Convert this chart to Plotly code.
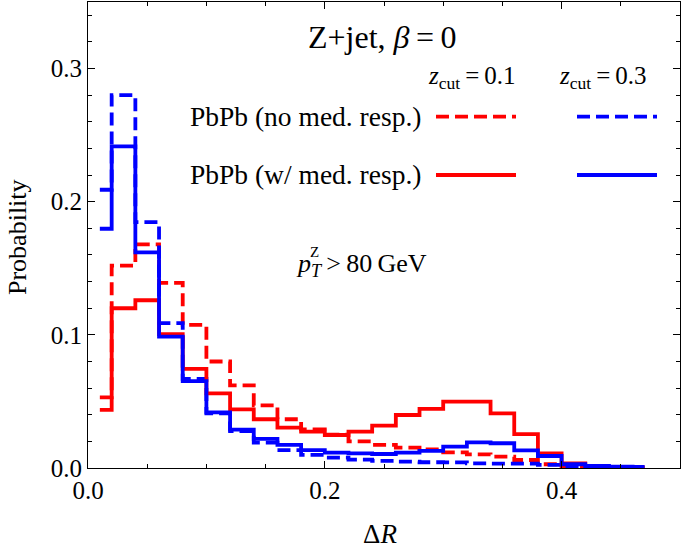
import plotly.graph_objects as go

# bin centres of the Delta R histograms (bin width 0.02)
dr = [0.01, 0.03, 0.05, 0.07, 0.09, 0.11, 0.13, 0.15, 0.17, 0.19, 0.21, 0.23,
      0.25, 0.27, 0.29, 0.31, 0.33, 0.35, 0.37, 0.39, 0.41, 0.43, 0.45, 0.47]

# zcut = 0.1
red_no_resp = [0.053, 0.152, 0.168, 0.139, 0.1075, 0.080, 0.062, 0.047, 0.0366, 0.029, 0.025, 0.020,
               0.0173, 0.0153, 0.014, 0.0118, 0.0103, 0.0085, 0.006, 0.0028, 0.0015, 0.0008, 0.0005, 0.0003]
red_w_resp = [0.0436, 0.120, 0.126, 0.1005, 0.0745, 0.056, 0.044, 0.0366, 0.0303, 0.0273, 0.0248, 0.0273,
              0.0318, 0.0398, 0.0444, 0.0499, 0.0499, 0.041, 0.0255, 0.011, 0.0035, 0.001, 0.0006, 0.0004]

# zcut = 0.3
blue_no_resp = [0.209, 0.280, 0.1847, 0.1088, 0.067, 0.041, 0.0278, 0.019, 0.0135, 0.0098, 0.0078, 0.0063,
                0.0053, 0.0048, 0.0043, 0.0042, 0.0035, 0.0033, 0.0033, 0.0023, 0.0015, 0.001, 0.0006, 0.0004]
blue_w_resp = [0.1797, 0.2416, 0.162, 0.0987, 0.0652, 0.0418, 0.0288, 0.0218, 0.0173, 0.0135, 0.0115, 0.011,
               0.0105, 0.0115, 0.0128, 0.016, 0.0193, 0.0186, 0.0133, 0.009, 0.0028, 0.0015, 0.001, 0.0008]

x_ticks = [0.0, 0.2, 0.4]
y_ticks = [0.0, 0.1, 0.2, 0.3]

FONT = "Liberation Serif"
RED = "#ff0000"
BLUE = "#0000ff"
DASH = "13px,6px"

fig = go.Figure()

series = [
    (red_no_resp, RED, DASH),
    (blue_no_resp, BLUE, DASH),
    (red_w_resp, RED, "solid"),
    (blue_w_resp, BLUE, "solid"),
]
for vals, col, dash in series:
    fig.add_trace(go.Scatter(
        x=dr, y=vals, mode="lines", line_shape="hvh",
        line=dict(color=col, width=3.8, dash=dash),
        showlegend=False, hoverinfo="skip",
    ))

# hand-made legend: two columns (zcut) and two rows (medium response)
def px_x(p):
    return (p - 88) / 592

def px_y(p):
    return (468 - p) / 466

def label(text, xp, yp, size, xanchor="center"):
    fig.add_annotation(x=px_x(xp), y=px_y(yp), xref="paper", yref="paper",
                       text=text, showarrow=False, xanchor=xanchor, yanchor="middle",
                       font=dict(size=size, family=FONT, color="black"))

legend_rows = [("PbPb (no med. resp.)", 116.7, DASH), ("PbPb (w/ med. resp.)", 175, "solid")]
for text, yp, dash in legend_rows:
    label(text, 423, yp, 27.5, xanchor="right")
    for x0, x1, col in [(436, 516, RED), (577, 657, BLUE)]:
        fig.add_shape(type="line", xref="paper", yref="paper",
                      x0=px_x(x0), x1=px_x(x1), y0=px_y(yp), y1=px_y(yp),
                      line=dict(color=col, width=3.8, dash=dash))

label("<i>z</i><sub>cut</sub>\u2009=\u20090.1", 471, 77, 25)
label("<i>z</i><sub>cut</sub>\u2009=\u20090.3", 602, 77, 25)
label("Z+jet, <i>β</i>\u2009=\u20090", 382, 37, 32)

# p_T^Z: subscript in the text, the Z set above it as a small label
label("<i>p</i><sub><i>T</i></sub>\u2009>\u200980\u2009GeV", 361, 265, 26)
label("Z", 314, 252, 15)

# axis titles placed as text next to the frame
label("Δ<i>R</i>", 380, 534, 27)
fig.add_annotation(x=px_x(17), y=px_y(237), xref="paper", yref="paper",
                   text="Probability", showarrow=False, textangle=-90,
                   xanchor="center", yanchor="middle",
                   font=dict(size=26, family=FONT, color="black"))

axis_common = dict(
    showline=True, linecolor="black", linewidth=1.2, mirror="ticks",
    ticks="inside", ticklen=7, tickwidth=1.2, tickcolor="black",
    showgrid=False, zeroline=False, automargin=False,
    tickfont=dict(size=25, family=FONT, color="black"),
)

fig.update_xaxes(
    range=[0, 0.5], tickvals=x_ticks, ticktext=[f"{v:.1f}" for v in x_ticks],
    minor=dict(dtick=0.05, ticks="inside", ticklen=4, tickcolor="black", tickwidth=1),
    **axis_common,
)
fig.update_yaxes(
    range=[0, 0.35], tickvals=y_ticks, ticktext=[f"{v:.1f}" for v in y_ticks],
    minor=dict(dtick=0.02, ticks="inside", ticklen=4, tickcolor="black", tickwidth=1),
    **axis_common,
)

fig.update_layout(
    width=700, height=550,
    margin=dict(l=88, r=20, t=2, b=82),
    plot_bgcolor="white", paper_bgcolor="white",
    showlegend=False,
)

# drop the browser's default page margin so the figure sits at the top-left corner
fig.write_html("out.html", config={"displayModeBar": False},
               post_script="document.body.style.margin = '0';")
